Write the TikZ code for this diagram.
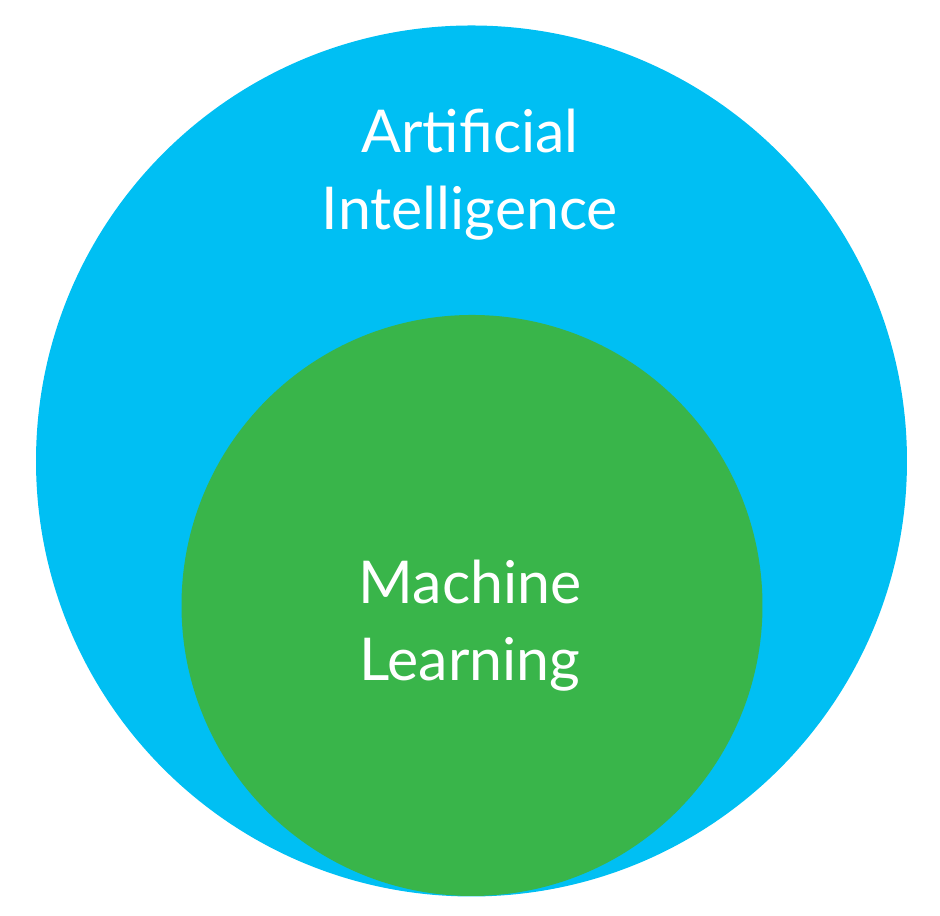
\documentclass[tikz,border=0pt]{standalone}
\usepackage{fontspec}
\setmainfont{Lato}
\usepackage{xcolor}
\definecolor{aiblue}{RGB}{0, 191, 243}
\definecolor{mlgreen}{RGB}{57, 181, 74}

\begin{document}
\begin{tikzpicture}[x=1cm,y=1cm,
  label/.style={text=white, align=center, font=\fontsize{16.8}{22}\selectfont}]
\useasboundingbox (0,0) rectangle (9.40,9.16);
% Circles
\fill[aiblue] (4.715,4.55) circle (4.355);
\fill[mlgreen] (4.72,3.105) circle (2.905);
% Labels
\node[label] (ai) at (4.70,7.41) {Artificial\\Intelligence};
\node[label] (ml) at (4.70,2.90) {Machine\\Learning};
\end{tikzpicture}
\end{document}
